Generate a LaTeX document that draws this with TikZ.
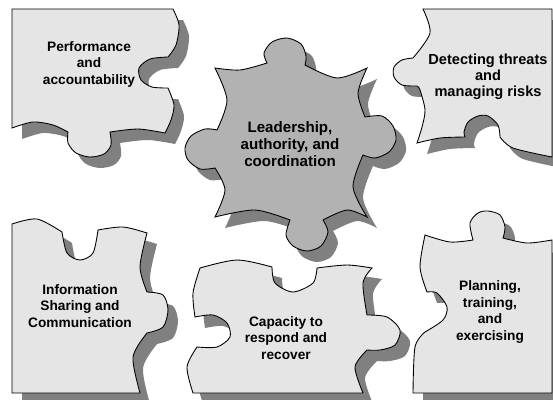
\documentclass[tikz,border=0pt]{standalone}
\usepackage{fontspec}
\setsansfont{Liberation Sans}

\newcommand{\perfpath}{(12,9) -- (173,9)
  -- plot[smooth] coordinates {(173,9) (179,25) (176,45) (168,57)}
  -- plot[smooth] coordinates {(168,57) (150,59) (139,68) (141,80) (152,87) (168,88)}
  -- plot[smooth] coordinates {(168,88) (174,105) (171,120) (165,133)}
  -- plot[smooth] coordinates {(165,133) (138,129) (110,132)}
  -- plot[smooth] coordinates {(110,132) (111,145) (104,154) (90,157) (76,153) (68,143) (68,132)}
  -- plot[smooth] coordinates {(68,132) (53,125) (33,122) (12,128)} -- cycle}
\newcommand{\leadpath}{(215,68)
  -- plot[smooth] coordinates {(215,68) (240,70) (267,63)}
  -- plot[smooth] coordinates {(267,63) (264,53) (272,42) (287,38) (301,44) (306,56) (305,65)}
  -- plot[smooth] coordinates {(305,65) (337,78) (367,68)}
  -- plot[smooth] coordinates {(367,68) (358,93) (365,117)}
  -- plot[smooth] coordinates {(365,117) (382,116) (393,126) (396,140) (389,152) (375,158) (363,155)}
  -- plot[smooth] coordinates {(363,155) (353,187) (367,217)}
  -- plot[smooth] coordinates {(367,217) (347,210) (323,220)}
  -- plot[smooth] coordinates {(323,220) (328,232) (321,246) (307,251) (293,246) (286,235) (290,220)}
  -- plot[smooth] coordinates {(290,220) (255,210) (215,217)}
  -- plot[smooth] coordinates {(215,217) (225,190) (215,168)}
  -- plot[smooth] coordinates {(215,168) (200,169) (188,160) (185,148) (191,136) (205,129) (217,130)}
  -- plot[smooth] coordinates {(217,130) (227,100) (215,68)} -- cycle}
\newcommand{\detectpath}{(423,9) -- (552,9) -- (552,157)
  -- plot[smooth] coordinates {(552,157) (513,148) (500,137)}
  -- plot[smooth] coordinates {(500,137) (498,125) (488,116) (478,116) (468,122) (464,132) (465,137)}
  -- plot[smooth] coordinates {(465,137) (440,138) (417,143)}
  -- plot[smooth] coordinates {(417,143) (422,127) (425,110) (420,90) (417,86)}
  -- plot[smooth] coordinates {(417,86) (402,85) (394,77) (394,67) (402,60) (413,58)}
  -- plot[smooth] coordinates {(413,58) (430,33) (423,9)} -- cycle}
\newcommand{\infopath}{(12,224)
  -- plot[smooth] coordinates {(12,224) (37,219) (62,232)}
  -- plot[smooth] coordinates {(62,232) (67,253) (80,260) (93,253) (98,230)}
  -- plot[smooth] coordinates {(98,230) (123,227) (147,233)}
  -- plot[smooth] coordinates {(147,233) (140,267) (147,292)}
  -- plot[smooth] coordinates {(147,292) (163,295) (168,310) (163,327) (147,333)}
  -- plot[smooth] coordinates {(147,333) (133,357) (140,393)}
  -- (12,393) -- cycle}
\newcommand{\cappath}{(200,268)
  -- plot[smooth] coordinates {(200,268) (237,260) (272,267)}
  -- plot[smooth] coordinates {(272,267) (275,283) (293,292) (313,283) (317,268)}
  -- plot[smooth] coordinates {(317,268) (347,265) (372,268)}
  -- plot[smooth] coordinates {(372,268) (363,283) (367,315)}
  -- plot[smooth] coordinates {(367,315) (387,317) (400,330) (395,345) (380,350) (367,350)}
  -- plot[smooth] coordinates {(367,350) (355,367) (363,393)}
  -- (193,393)
  -- plot[smooth] coordinates {(193,393) (187,367) (197,347)}
  -- plot[smooth] coordinates {(197,347) (217,347) (230,337) (227,323) (213,315) (195,317)}
  -- plot[smooth] coordinates {(195,317) (193,293) (200,268)} -- cycle}
\newcommand{\planpath}{(425,235)
  -- plot[smooth] coordinates {(425,235) (450,242) (473,240)}
  -- plot[smooth] coordinates {(473,240) (470,223) (478,213) (488,211) (500,215) (505,227) (503,238)}
  -- plot[smooth] coordinates {(503,238) (527,243) (552,240)}
  -- (552,393) -- (413,393)
  -- plot[smooth] coordinates {(413,393) (415,347) (425,332)}
  -- plot[smooth] coordinates {(425,332) (443,320) (447,307) (437,293) (427,292)}
  -- plot[smooth] coordinates {(427,292) (420,267) (425,235)} -- cycle}

\begin{document}
\begin{tikzpicture}[x=0.02cm,y=-0.02cm,
    drop/.style={fill=black!50,shift={(10,11)}},
    piece/.style={fill=black!10,draw=black,line width=0.5pt},
    hub/.style={piece,fill=black!30},
    txt/.style={font=\sffamily\bfseries\fontsize{7.8}{9.4}\selectfont,align=center},
    bigtxt/.style={font=\sffamily\bfseries\fontsize{8.6}{9.6}\selectfont,align=center}]
  \useasboundingbox (0,0) rectangle (553,399);
  \clip (0,0) rectangle (553,399);

  % shadows
  \fill[drop] \perfpath;
  \fill[drop] \leadpath;
  \fill[drop] \detectpath;
  \fill[drop] \infopath;
  \fill[drop] \cappath;
  \fill[drop] \planpath;

  % pieces
  \filldraw[piece] \perfpath;
  \filldraw[hub] \leadpath;
  \filldraw[piece] \detectpath;
  \filldraw[piece] \infopath;
  \filldraw[piece] \cappath;
  \filldraw[piece] \planpath;

  \node[txt]    (perf)   at (89,64)   {Performance\\and\\accountability};
  \node[bigtxt] (lead)   at (290,144) {Leadership,\\authority, and\\coordination};
  \node[txt,font=\sffamily\bfseries\fontsize{8.3}{9.2}\selectfont]
                (detect) at (488,77)  {Detecting threats\\and\\managing risks};
  \node[txt]    (info)   at (80,306)  {Information\\Sharing and\\Communication};
  \node[txt]    (cap)    at (286,338) {Capacity to\\respond and\\recover};
  \node[txt]    (plan)   at (490,312) {Planning,\\training,\\and\\exercising};
\end{tikzpicture}
\end{document}
